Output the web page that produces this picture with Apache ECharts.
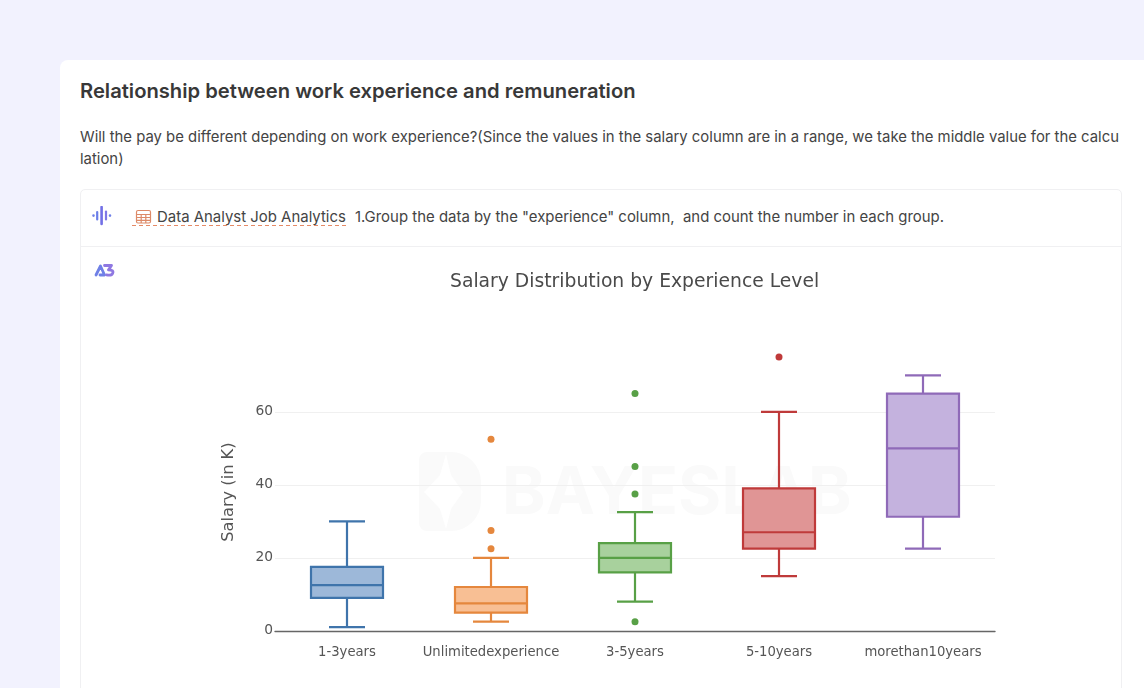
<!DOCTYPE html>
<html>
<head>
<meta charset="utf-8">
<script src="https://cdn.jsdelivr.net/npm/echarts@6/dist/echarts.min.js"></script>
<style>
html,body{margin:0;padding:0;width:1144px;height:688px;overflow:hidden;background:#f2f2fe;font-family:Inter,"Noto Sans",sans-serif;color:#3a3a3a;}
#card{position:absolute;left:60px;top:60px;width:1100px;height:660px;background:#fff;border-radius:8px;}
#h{position:absolute;left:80px;top:78px;font-size:20.2px;line-height:26px;font-weight:600;color:#383838;white-space:nowrap;}
#p{position:absolute;left:80px;top:126px;width:1042px;font-size:14.88px;line-height:22px;word-break:break-all;color:#444;}
#box{position:absolute;left:80px;top:189px;width:1040px;height:520px;border:1px solid #f0f0f2;border-radius:5px;}
#rule{position:absolute;left:80px;top:246px;width:1041px;height:1px;background:#f0f0f2;}
#step{position:absolute;left:157px;top:207px;font-size:14.95px;line-height:20px;white-space:nowrap;color:#444;}
#step .ds{display:inline-block;margin-right:9px;}
#dash{position:absolute;left:132px;top:225px;width:215px;height:1px;background:repeating-linear-gradient(90deg,#e58a66 0 4px,transparent 4px 7px);}
#chart{position:absolute;left:80px;top:247px;width:1042px;height:441px;}
svg.i{position:absolute;}
</style>
</head>
<body>
<div id="card"></div>
<div id="h">Relationship between work experience and remuneration</div>
<div id="p">Will the pay be different depending on work experience?(Since the values in the salary column are in a range, we take the middle value for the calculation)</div>
<div id="box"></div>
<div id="rule"></div>
<svg class="i" style="left:92px;top:206px" width="20" height="20" viewBox="0 0 20 20" fill="none" stroke-linecap="round">
  <path d="M1.5 9.5v0.1M18 9.5v0.1" stroke="#6f80e8" stroke-width="2.6"/>
  <path d="M5.2 6v7.5" stroke="#6a7ee8" stroke-width="2.2"/>
  <path d="M14 5.5v8" stroke="#7f78e6" stroke-width="2.2"/>
  <path d="M9.6 1v17" stroke="#7270e6" stroke-width="2.6"/>
</svg>
<svg class="i" style="left:135px;top:209px" width="17" height="16" viewBox="0 0 17 16" fill="none" stroke="#dd8a68" stroke-width="1.2">
  <rect x="1.5" y="1.5" width="14" height="12.5" rx="1.5"/>
  <path d="M1.5 5.5h14M1.5 8.5h14M1.5 11.3h14M6.2 5.5v8.5M10.8 5.5v8.5"/>
</svg>
<div id="step"><span class="ds">Data Analyst Job Analytics</span>1.Group the data by the "experience" column,&nbsp; and count the number in each group.</div>
<div id="dash"></div>
<svg class="i" style="left:94px;top:263px" width="21" height="14" viewBox="0 0 21 14" fill="none" stroke-width="2.8" stroke-linejoin="round" stroke-linecap="round">
  <path d="M2 12L6.5 3L10.5 12H6" stroke="#6f80e6"/>
  <path d="M10.5 2.5H17.5L14.5 6.8C18.5 6.8 19.5 8.5 18.7 10.2C18 12 15 12.4 12.5 11.8" stroke="#8f78e2"/>
</svg>
<div id="chart"></div>
<script>
var categories = ['1-3years', 'Unlimitedexperience', '3-5years', '5-10years', 'morethan10years'];
var lowWhisker = [1, 2.5, 8, 15, 22.5];
var lowerQuartile = [9, 5, 16, 22.5, 31.25];
var median = [12.5, 7.5, 20, 27, 50];
var upperQuartile = [17.5, 12, 24, 39, 65];
var highWhisker = [30, 20, 32.5, 60, 70];
var outlierCategory = [1, 1, 1, 2, 2, 2, 2, 3];
var outlierValue = [22.5, 27.5, 52.5, 2.5, 37.5, 45, 65, 75];
var strokeColors = ['#3f74ab', '#e5873d', '#58a046', '#bf3a3a', '#8f6ab8'];
var fillColors = ['#9db8d9', '#f8bf94', '#a8d19d', '#e09595', '#c4b2de'];
var yTicks = [0, 20, 40, 60];

var chart = echarts.init(document.getElementById('chart'), null, {renderer: 'canvas'});
var font = '"DejaVu Sans", sans-serif';

function renderBox(params, api) {
  var i = api.value(0);
  var x = api.coord([i, 0])[0];
  var bw = api.size([1, 0])[0] * 0.5;
  var cap = bw / 4;
  var y = function (d) { return api.coord([i, api.value(d)])[1]; };
  var yLow = y(1), yQ1 = y(2), yMed = y(3), yQ3 = y(4), yHigh = y(5);
  var line = {stroke: strokeColors[i], lineWidth: 2.2, fill: null};
  function seg(x1, y1, x2, y2) {
    return {type: 'line', shape: {x1: x1, y1: y1, x2: x2, y2: y2}, style: line};
  }
  return {type: 'group', children: [
    seg(x, yLow, x, yQ1),
    seg(x, yQ3, x, yHigh),
    seg(x - cap, yLow, x + cap, yLow),
    seg(x - cap, yHigh, x + cap, yHigh),
    {type: 'rect', shape: {x: x - bw / 2, y: yQ3, width: bw, height: yQ1 - yQ3},
     style: {fill: fillColors[i], stroke: strokeColors[i], lineWidth: 2.2}},
    seg(x - bw / 2, yMed, x + bw / 2, yMed)
  ]};
}

chart.setOption({
  animation: false,
  backgroundColor: 'transparent',
  title: {
    text: 'Salary Distribution by Experience Level',
    left: 365, top: 21,
    textStyle: {fontFamily: font, fontSize: 18.75, fontWeight: 'normal', color: '#4a4a4a'}
  },
  grid: {left: 195, width: 720, top: 106.4, height: 277.4},
  xAxis: {
    type: 'category', data: categories,
    axisTick: {show: false},
    axisLine: {lineStyle: {color: '#666', width: 1.4}},
    axisLabel: {fontFamily: font, fontSize: 13.2, color: '#555', margin: 15.5, interval: 0}
  },
  yAxis: {
    type: 'value', min: 0, max: 76, interval: 20,
    name: 'Salary (in K)', nameLocation: 'middle', nameGap: 38,
    nameTextStyle: {fontFamily: font, fontSize: 16.2, color: '#555'},
    axisLine: {show: false}, axisTick: {show: false},
    axisLabel: {fontFamily: font, fontSize: 13.8, color: '#555', margin: 2, showMaxLabel: false,
      formatter: function (v) { return yTicks.indexOf(v) >= 0 ? String(v) : ''; }},
    splitLine: {show: true, showMaxLine: false, lineStyle: {color: '#f0f0f0', width: 1.2}}
  },
  graphic: [
    {type: 'rect', z: 0, silent: true, shape: {x: 339, y: 205, width: 62, height: 79, r: [8, 30, 30, 8]}, style: {fill: '#fafafa'}},
    {type: 'polygon', z: 0, silent: true, shape: {points: [[366, 207], [371, 228], [383, 245], [371, 262], [366, 282], [360, 262], [344, 245], [360, 228]]}, style: {fill: '#ffffff'}},
    {type: 'text', z: 0, silent: true, x: 422, y: 214,
     style: {text: 'BAYESLAB', fontFamily: 'Inter, sans-serif', fontWeight: 700, fontSize: 66, fill: '#fafafa'}}
  ],
  series: [
    {type: 'custom', renderItem: renderBox, z: 3,
     encode: {x: 0, y: [1, 2, 3, 4, 5]},
     data: categories.map(function (c, i) {
       return [i, lowWhisker[i], lowerQuartile[i], median[i], upperQuartile[i], highWhisker[i]];
     })},
    {type: 'scatter', symbolSize: 7, z: 4,
     data: outlierValue.map(function (v, k) {
       return {value: [outlierCategory[k], v], itemStyle: {color: strokeColors[outlierCategory[k]], opacity: 1}};
     })}
  ]
});
</script>
</body>
</html>
